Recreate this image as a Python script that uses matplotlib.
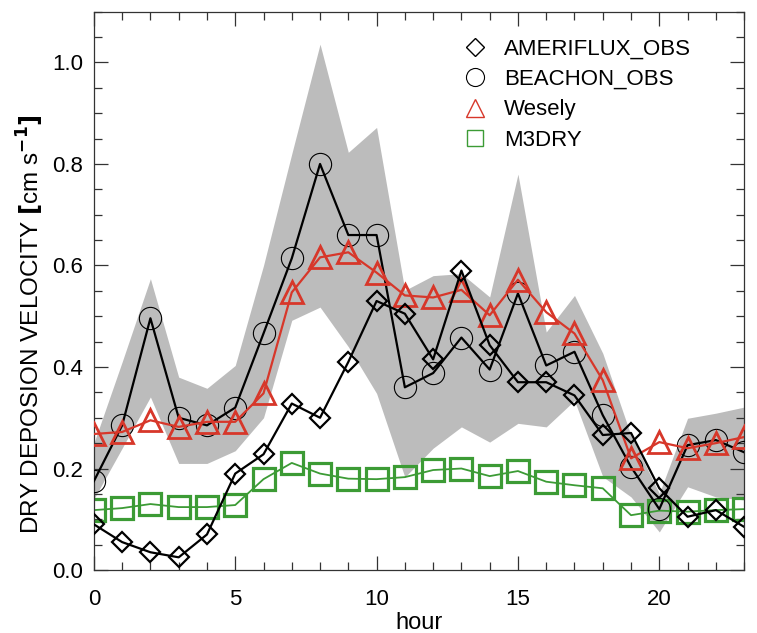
import matplotlib
matplotlib.use('Agg')
import matplotlib.pyplot as plt
from matplotlib.lines import Line2D
from matplotlib.ticker import MultipleLocator, FormatStrFormatter

plt.rcParams['font.family'] = ['Liberation Sans', 'DejaVu Sans']

# values
hours = list(range(24))
ameriflux = [0.09, 0.055, 0.035, 0.025, 0.07, 0.19, 0.228, 0.328, 0.30, 0.41, 0.53, 0.505,
             0.415, 0.59, 0.443, 0.37, 0.37, 0.344, 0.266, 0.27, 0.161, 0.105, 0.118, 0.085]
beachon = [0.175, 0.285, 0.496, 0.30, 0.285, 0.32, 0.466, 0.614, 0.80, 0.66, 0.66, 0.36,
           0.388, 0.458, 0.395, 0.545, 0.403, 0.43, 0.305, 0.203, 0.12, 0.246, 0.256, 0.232]
wesely = [0.268, 0.272, 0.295, 0.282, 0.292, 0.292, 0.348, 0.547, 0.616, 0.626, 0.586, 0.541,
          0.537, 0.552, 0.502, 0.572, 0.508, 0.466, 0.374, 0.22, 0.252, 0.24, 0.25, 0.262]
m3dry = [0.118, 0.122, 0.13, 0.124, 0.124, 0.128, 0.179, 0.211, 0.19, 0.18, 0.179, 0.183,
         0.197, 0.20, 0.185, 0.195, 0.174, 0.167, 0.161, 0.108, 0.117, 0.115, 0.118, 0.12]
# grey range of the BEACHON obs
band_hi = [0.25, 0.41, 0.574, 0.38, 0.358, 0.403, 0.60, 0.82, 1.036, 0.823, 0.872, 0.551,
           0.58, 0.584, 0.538, 0.78, 0.469, 0.541, 0.427, 0.265, 0.151, 0.299, 0.309, 0.321]
band_lo = [0.14, 0.24, 0.341, 0.21, 0.21, 0.235, 0.30, 0.492, 0.518, 0.44, 0.348, 0.183,
           0.24, 0.282, 0.252, 0.289, 0.282, 0.334, 0.184, 0.144, 0.075, 0.164, 0.144, 0.138]

red = '#d7372a'
green = '#3c9b35'

fig = plt.figure(figsize=(7.57, 6.33), dpi=100)
ax = fig.add_axes([0.124, 0.0995, 0.859, 0.882])

ax.fill_between(hours, band_lo, band_hi, color='#bcbcbc', lw=0, zorder=1)

ax.plot(hours, m3dry, color=green, lw=1.3, marker='s', ms=16, mfc='none',
        mec=green, mew=2.3, zorder=2)
ax.plot(hours, beachon, color='k', lw=1.6, marker='o', ms=16, mfc='none',
        mec='k', mew=0.8, zorder=3)
ax.plot(hours, wesely, color=red, lw=1.6, marker='^', ms=16, mfc='none',
        mec=red, mew=2.0, zorder=4)
ax.plot(hours, ameriflux, color='k', lw=1.6, marker='D', ms=10.5, mfc='none',
        mec='k', mew=1.6, zorder=5)

ax.set_xlim(0, 23)
ax.set_ylim(0, 1.1)
ax.xaxis.set_major_locator(MultipleLocator(5))
ax.xaxis.set_minor_locator(MultipleLocator(1))
ax.yaxis.set_major_locator(MultipleLocator(0.2))
ax.yaxis.set_minor_locator(MultipleLocator(0.05))
ax.yaxis.set_major_formatter(FormatStrFormatter('%.1f'))
ax.tick_params(which='both', direction='in', top=True, right=True,
               labelsize=16, width=0.9, color='#333333')
ax.tick_params(axis='x', pad=14)
ax.tick_params(axis='y', pad=8)
ax.tick_params(which='major', length=10)
ax.tick_params(which='minor', length=5.5)
for s in ax.spines.values():
    s.set_linewidth(0.9)
    s.set_color('#333333')

ax.set_xlabel('hour', fontsize=17, labelpad=1)
ax.set_ylabel(r'DRY DEPOSION VELOCITY $\mathbf{[}$cm s$^{\mathbf{-1}}$$\mathbf{]}$',
              fontsize=17.5, va='center')
ax.yaxis.set_label_coords(-0.097, 0.44)

handles = [
    Line2D([], [], ls='none', marker='D', ms=9, mfc='none', mec='k', mew=1.0),
    Line2D([], [], ls='none', marker='o', ms=13, mfc='none', mec='k', mew=0.8),
    Line2D([], [], ls='none', marker='^', ms=13, mfc='none', mec=red, mew=1.0),
    Line2D([], [], ls='none', marker='s', ms=12, mfc='none', mec=green, mew=1.0),
]
names = ['AMERIFLUX_OBS', 'BEACHON_OBS', 'Wesely', 'M3DRY']
ax.legend(handles, names, loc='upper left', bbox_to_anchor=(0.528, 1.0),
          frameon=False, fontsize=16, handlelength=1.0, handletextpad=0.8,
          labelspacing=0.43, borderaxespad=0.8)

fig.savefig('out.png', dpi=100)
